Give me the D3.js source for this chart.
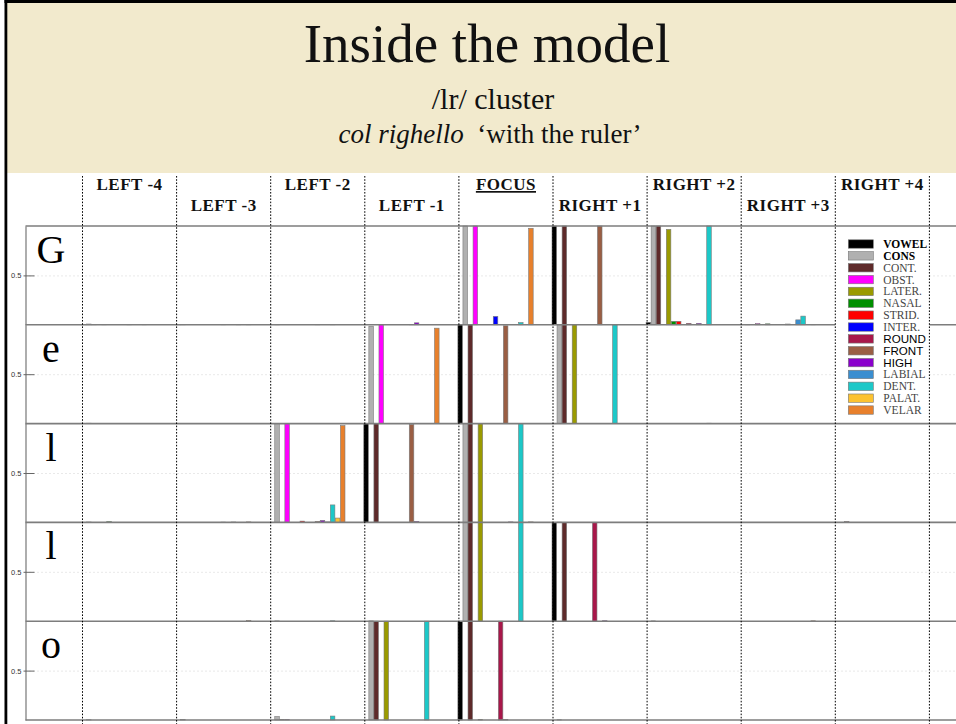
<!DOCTYPE html>
<html><head><meta charset="utf-8">
<script src="https://cdn.jsdelivr.net/npm/d3@7"></script>
<style>
html,body{margin:0;padding:0;background:#fff;}
svg{display:block;}
</style></head>
<body>
<svg id="chart" width="956" height="724"></svg>
<script>
// ---------------- DATA ----------------
const features = ["VOWEL","CONS","CONT.","OBST.","LATER.","NASAL","STRID.","INTER.","ROUND","FRONT","HIGH","LABIAL","DENT.","PALAT.","VELAR"];
const featureColors = ["#000000","#b0b0b0","#5e2a2a","#ff00ff","#9a9a00","#008f00","#ff0000","#0000ff","#a8174a","#9a5e44","#8a00cc","#3a8ed0","#1cc8c8","#fcc230","#e8802c"];
const positions = ["LEFT -4","LEFT -3","LEFT -2","LEFT -1","FOCUS","RIGHT +1","RIGHT +2","RIGHT +3","RIGHT +4"];
const letters = ["G","e","l","l","o"];
const titleText = "Inside the model";
const subtitleText = "/lr/ cluster";
const glossItalic = "col righello";
const glossText = "\u2018with the ruler\u2019";
const yTicks = [0.5];

// values per row letter: 9 positions x 15 features
const valuesG = [
  [0.004,0.008,0.004,0,0.004,0,0,0,0,0.004,0,0,0.004,0,0],
  [0.003,0.004,0,0,0,0,0,0,0,0.004,0,0,0.003,0,0.004],
  [0,0.003,0,0,0,0,0,0,0,0.004,0,0,0.005,0,0],
  [0,0.005,0,0,0,0,0,0,0,0.004,0.02,0,0,0,0],
  [0,1,0,1,0,0,0,0.085,0,0,0,0,0.023,0,0.977],
  [1,0,1,0,0,0,0,0,0,1,0,0,0.004,0,0],
  [0.025,1,1,0,0.966,0.035,0.035,0,0.015,0,0.015,0,1,0,0],
  [0,0.004,0,0.012,0,0.01,0,0,0,0.008,0,0.05,0.088,0,0.005],
  [0,0,0,0,0,0,0,0,0,0,0,0,0,0,0]
];
const valuesE = [
  [0,0.004,0,0,0,0,0,0,0,0,0,0,0,0,0],
  [0,0.003,0,0,0,0,0,0,0,0.003,0,0,0,0,0],
  [0,0.003,0,0,0,0,0,0,0,0,0,0,0,0,0],
  [0,0.985,0,1,0,0,0,0,0,0,0,0,0,0,0.966],
  [1,0,1,0,0,0,0,0,0,0.99,0,0,0,0,0],
  [0,1,1,0,1,0,0,0,0,0,0,0,1,0,0],
  [0,0.003,0,0,0,0,0,0,0,0,0,0,0.004,0,0],
  [0,0.003,0,0,0,0,0,0,0,0,0,0,0,0,0],
  [0,0,0,0,0,0,0,0,0,0,0,0,0,0,0]
];
const valuesL1 = [
  [0,0.004,0,0,0,0.008,0,0,0,0,0,0,0,0,0],
  [0,0,0,0,0,0,0,0,0,0.003,0,0.004,0,0,0.005],
  [0,1,0,1,0,0,0.013,0,0,0.01,0.02,0.005,0.177,0.044,0.98],
  [1,0,1,0,0,0,0,0,0,0.99,0.01,0,0,0,0],
  [0,1,1,0,1,0,0,0,0,0,0.005,0,1,0,0.005],
  [0,0.003,0,0,0,0,0,0,0,0,0,0,0,0,0],
  [0,0,0,0,0,0,0,0,0,0,0,0,0,0,0],
  [0,0,0,0,0,0,0,0,0,0,0,0,0,0,0],
  [0,0,0.008,0,0,0,0,0,0,0,0,0,0,0,0]
];
const valuesL2 = [
  [0,0,0,0,0,0,0,0,0,0,0,0,0,0,0],
  [0,0,0,0,0,0,0,0,0,0,0,0,0,0,0.006],
  [0,0.003,0,0,0,0,0,0,0,0,0,0,0.004,0,0],
  [0,0.003,0,0,0,0,0,0,0,0,0,0,0,0,0],
  [0,1,1,0,1,0,0,0,0,0,0,0,1,0,0],
  [1,0,1,0,0,0,0,0,1,0,0.005,0,0,0,0],
  [0,0.003,0,0,0,0,0,0,0,0,0,0,0,0,0],
  [0,0,0,0,0,0,0,0,0,0,0,0,0,0,0.004],
  [0,0,0,0,0,0,0,0,0,0,0,0,0,0,0]
];
const valuesO = [
  [0,0.003,0,0,0,0,0,0,0,0,0,0,0,0,0],
  [0,0.004,0,0,0,0,0,0,0,0,0,0,0,0,0],
  [0,0.035,0.005,0.005,0,0,0,0,0,0,0,0,0.04,0,0],
  [0,1,1,0,1,0,0,0,0,0,0,0,1,0,0],
  [1,0,1,0,0.005,0,0,0,1,0.004,0,0,0,0,0],
  [0,0.003,0,0,0,0,0,0,0,0,0,0,0,0,0],
  [0,0,0,0,0,0,0,0,0,0,0,0,0,0,0],
  [0,0,0,0,0,0,0,0,0,0,0,0,0,0,0],
  [0,0,0,0,0,0,0,0,0,0,0,0,0,0,0]
];
const rowValues = [valuesG, valuesE, valuesL1, valuesL2, valuesO];

// ---------------- LAYOUT ----------------
const W = 956, H = 724;
const svg = d3.select("#chart");
const serif = "'Liberation Serif','Times New Roman',serif";
const sans = "'Liberation Sans',Arial,sans-serif";

// slide frame
svg.append("rect").attr("x",0).attr("y",0).attr("width",W).attr("height",H).attr("fill","#fff");
svg.append("rect").attr("x",7).attr("y",3).attr("width",W-7).attr("height",170).attr("fill","#f2eacd");
svg.append("rect").attr("x",4.5).attr("y",0).attr("width",W-4.5).attr("height",3).attr("fill","#000");
svg.append("rect").attr("x",4.5).attr("y",0).attr("width",2.8).attr("height",H).attr("fill","#000");

// header texts
svg.append("text").attr("x",487).attr("y",62).attr("text-anchor","middle")
  .attr("font-family",serif).attr("font-size",55).attr("fill","#111").text(titleText);
svg.append("text").attr("x",493).attr("y",109).attr("text-anchor","middle")
  .attr("font-family",serif).attr("font-size",30).attr("fill","#111").text(subtitleText);
const gloss = svg.append("text").attr("x",490).attr("y",143).attr("text-anchor","middle")
  .attr("font-family",serif).attr("font-size",27).attr("fill","#111");
gloss.append("tspan").attr("font-style","italic").text(glossItalic);
gloss.append("tspan").text("\u00a0 " + glossText);

// scales
const panelLeft = 25.5, panelRight = W;
const colStart = 82.5, colStep = 94.1;
const x = d3.scaleBand().domain(d3.range(positions.length))
  .range([colStart, colStart + colStep*positions.length]).paddingInner(0).paddingOuter(0);
const fx = d3.scaleBand().domain(d3.range(features.length))
  .range([-1, -1 + 0.8*colStep]).paddingInner(0.1).paddingOuter(0);
const rowBand = d3.scaleBand().domain(d3.range(letters.length)).range([226, 720]);

// rows
letters.forEach((letter, r) => {
  const top = rowBand(r), bot = top + rowBand.bandwidth();
  const y = d3.scaleLinear().domain([0,1]).range([bot, top]);
  const g = svg.append("g");

  // grid line (dotted)
  const grid = g.append("g").attr("transform",`translate(${panelLeft},0)`)
    .call(d3.axisLeft(y).tickValues(yTicks).tickSize(-(panelRight-panelLeft)).tickFormat(""));
  grid.select(".domain").remove();
  grid.selectAll("line").attr("stroke","#c8c8c8").attr("stroke-width",0.8).attr("stroke-dasharray","1,3");

  // bars
  const data = [];
  rowValues[r].forEach((vals, p) => vals.forEach((v, f) => { if (v > 0) data.push({p, f, v}); }));
  g.append("g").selectAll("rect").data(data).join("rect")
    .attr("x", d => x(d.p) + fx(d.f))
    .attr("width", fx.bandwidth())
    .attr("y", d => y(Math.min(d.v,1)))
    .attr("height", d => y(0) - y(Math.min(d.v,1)))
    .attr("fill", d => featureColors[d.f])
    .attr("stroke","#7a7a7a").attr("stroke-width",0.6);

  // y axis with inward tick
  const ax = g.append("g").attr("transform",`translate(${panelLeft},0)`)
    .call(d3.axisLeft(y).tickValues(yTicks).tickSizeInner(-9).tickSizeOuter(0).tickPadding(4).tickFormat(d3.format(".1f")));
  ax.select(".domain").attr("stroke","#777").attr("stroke-width",1.2);
  ax.selectAll(".tick line").attr("stroke","#666").attr("x1",-2);
  ax.selectAll(".tick text").attr("font-family",sans).attr("font-size",7.5).attr("fill","#333");

  // row letter
  svg.append("text").attr("x",51).attr("y",top+37).attr("text-anchor","middle")
    .attr("font-family",serif).attr("font-size",40).attr("fill","#000").text(letter);
});

// row border lines
svg.append("g").selectAll("line").data(d3.range(letters.length+1)).join("line")
  .attr("x1",panelLeft).attr("x2",panelRight)
  .attr("y1", i => i < letters.length ? rowBand(i) : rowBand(i-1)+rowBand.bandwidth())
  .attr("y2", i => i < letters.length ? rowBand(i) : rowBand(i-1)+rowBand.bandwidth())
  .attr("stroke","#7d7d7d").attr("stroke-width",1.6);

// legend box (covers RIGHT +4 column for first two rows)
const lgX = x(8), lgY = rowBand(0)+1;
svg.append("rect").attr("x",lgX).attr("y",lgY).attr("width",x.bandwidth())
  .attr("height",rowBand.bandwidth()*2-3).attr("fill","#fff");
const lg = svg.append("g").attr("transform",`translate(${lgX+13},244)`);
const lgItems = lg.selectAll("g").data(features).join("g")
  .attr("transform",(d,i)=>`translate(0,${i*11.86})`);
lgItems.append("rect").attr("x",0).attr("y",-4.2).attr("width",25).attr("height",8.4)
  .attr("fill",(d,i)=>featureColors[i]).attr("stroke","#777").attr("stroke-width",0.6);
lgItems.append("text").attr("x",35).attr("y",4)
  .attr("font-family",(d,i)=> (i>=8 && i<=10) ? sans : serif)
  .attr("font-size",(d,i)=> (i>=8 && i<=10) ? 11.6 : 11.5)
  .attr("font-weight",(d,i)=> i<2 ? "bold" : "normal")
  .attr("fill",(d,i)=> (i<2 || (i>=8 && i<=10)) ? "#000" : "#444")
  .text(d=>d);

// vertical dotted dividers
svg.append("g").selectAll("line").data(d3.range(positions.length+1)).join("line")
  .attr("x1", i => colStart + i*colStep).attr("x2", i => colStart + i*colStep)
  .attr("y1",176).attr("y2",H)
  .attr("stroke","#000").attr("stroke-width",1).attr("stroke-dasharray","1.6,1.6");

// position headers
svg.append("g").selectAll("text").data(positions).join("text")
  .attr("x",(d,i)=> x(i) + x.bandwidth()/2)
  .attr("y",(d,i)=> i%2===0 ? 190 : 211)
  .attr("text-anchor","middle")
  .attr("font-family",serif).attr("font-size",17).attr("font-weight","bold")
  .attr("letter-spacing",0.5).attr("fill","#111")
  .attr("text-decoration",(d)=> d==="FOCUS" ? "underline" : null)
  .text(d=>d);
</script>
</body></html>
